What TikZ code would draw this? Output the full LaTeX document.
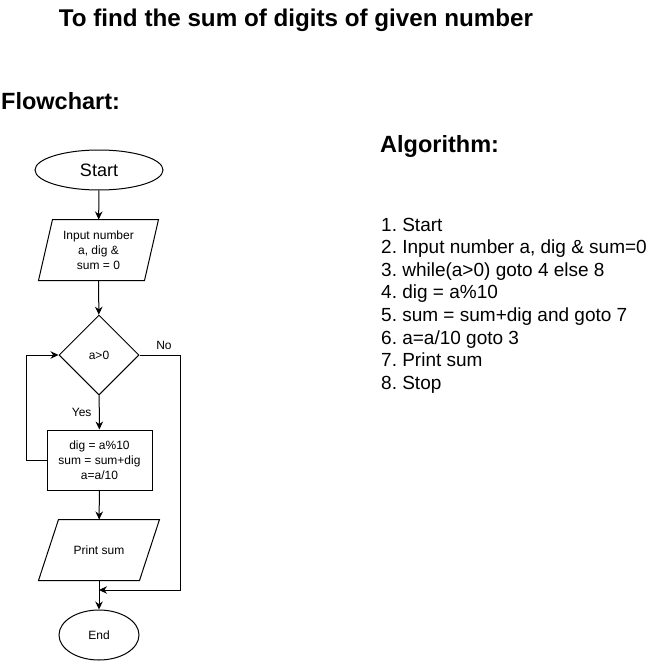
\documentclass[tikz,border=0pt]{standalone}
\usepackage{fontspec}
\setmainfont{Liberation Sans}
\usepackage{tikz}
\usetikzlibrary{arrows.meta,shapes.geometric}
\tikzset{
  >={Stealth[length=8,width=7.5]}, % arrow head like the drawing tool
  connect/.style={->,line width=1pt},
  link/.style={line width=1pt}
}
\tikzset{basic/.style={draw,line width=1pt,fill=none,align=center,inner sep=0,
                       font=\fontsize{12}{15}\selectfont}}
\tikzset{terminal/.style={basic,ellipse}}
\tikzset{io/.style={basic,draw=none,rectangle,minimum height=60}}
\tikzset{decision/.style={basic,diamond,minimum width=80,minimum height=80}}
\tikzset{process/.style={basic,rectangle,minimum width=105,minimum height=60}}
\tikzset{heading/.style={font=\fontsize{23.5}{28}\selectfont\bfseries}}
\tikzset{algline/.style={anchor=base west,inner sep=0,font=\fontsize{19}{23}\selectfont}}
\tikzset{label text/.style={font=\fontsize{12}{15}\selectfont}}
\newcommand{\iobox}[2]{\draw[link] ([xshift=#2]#1.north west) -- (#1.north east)
                            -- ([xshift=-#2]#1.south east) -- (#1.south west) -- cycle;}

\begin{document}
\begin{tikzpicture}[x=1pt,y=-1pt]
   \useasboundingbox (0,0) rectangle (651,661);
   % Headings
   \node[heading,font=\fontsize{24.2}{28}\selectfont\bfseries] (title) at (296,20) {To find the sum of digits of given number};
   \node[heading,anchor=west,inner sep=0] (flow) at (1,101) {Flowchart:};
   \node[heading,anchor=west,inner sep=0] (algo) at (380,146) {Algorithm:};
   % Draw flowchart nodes
   \node[terminal,minimum width=128,minimum height=40,font=\fontsize{18}{22}\selectfont] (start) at (99,170) {Start};
   \node[io,minimum width=119] (input) at (98.5,250) {Input number\\a, dig \&\\sum = 0};
   \iobox{input}{14}
   \node[decision] (test) at (99,355) {a>0};
   \node[process] (body) at (99.5,460) {dig = a\%10\\sum = sum+dig\\a=a/10};
   \node[io,minimum width=120] (print) at (99,550) {Print sum};
   \iobox{print}{20}
   \node[terminal,minimum width=80,minimum height=50] (stop) at (99,635) {End};
   \coordinate (join) at (99,590);
   % Connect the nodes
   \draw[connect] (start) -- (input);
   \draw[connect] (input) -- (test);
   \draw[connect] (test) -- node[label text,left=4pt] {Yes} (body);
   \draw[connect] (body) -- (print);
   \draw[connect] (print) -- (stop);
   % Loop back and exit branch
   \draw[connect] (body.west) -- ++(-20,0) |- (test.west);
   \draw[connect] (test.east) -- node[label text,above=2pt,xshift=4pt] {No} ++(41,0) |- (join);
   % Algorithm steps
   \foreach \s [count=\si] in {Start,{Input number a, dig \& sum=0},while(a>0) goto 4 else 8,
                               dig = a\%10,sum = sum+dig and goto 7,a=a/10 goto 3,Print sum,Stop}{%
   \node[algline] (step\si) at (381,231+\si*22.6-22.6) {\si.\ \s};
   }
\end{tikzpicture}
\end{document}
